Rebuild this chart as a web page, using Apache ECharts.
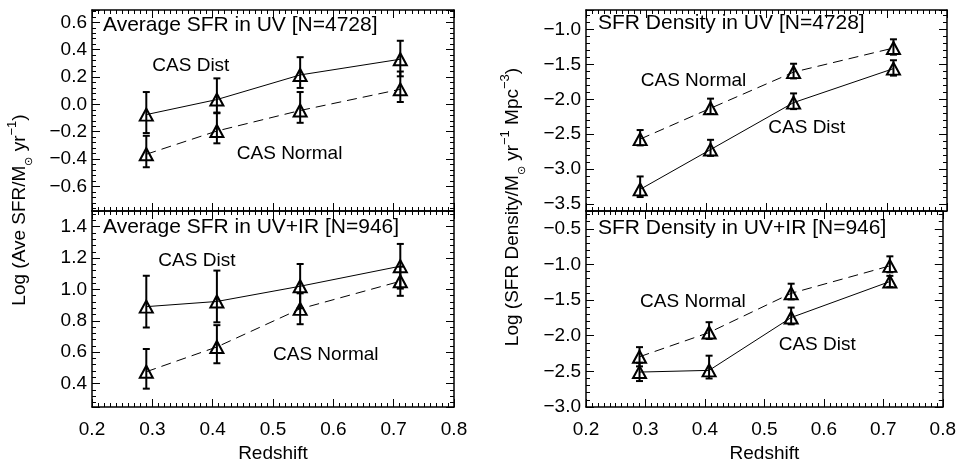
<!DOCTYPE html>
<html><head><meta charset="utf-8">
<script src="https://cdn.jsdelivr.net/npm/echarts@6/dist/echarts.min.js"></script>
<style>html,body{margin:0;padding:0;background:#fff}#c{width:959px;height:464px}</style>
</head><body><div id="c"></div>
<script>
// ---------------- data ----------------
const redshift = [0.29, 0.407, 0.545, 0.711];
const xTickLabels = ['0.2', '0.3', '0.4', '0.5', '0.6', '0.7', '0.8'];

// Panel 1: Average SFR in UV [N=4728]
const uvAvgDist      = [-0.075, 0.035, 0.215, 0.33];
const uvAvgDistLo    = [-0.21, -0.065, 0.12, 0.205];
const uvAvgDistHi    = [0.09, 0.19, 0.345, 0.465];
const uvAvgNormal    = [-0.365, -0.195, -0.045, 0.11];
const uvAvgNormalLo  = [-0.46, -0.285, -0.135, 0.017];
const uvAvgNormalHi  = [-0.23, -0.06, 0.09, 0.24];

// Panel 2: Average SFR in UV+IR [N=946]
const irAvgDist      = [0.89, 0.923, 1.02, 1.148];
const irAvgDistLo    = [0.757, 0.79, 0.88, 1.005];
const irAvgDistHi    = [1.087, 1.12, 1.162, 1.29];
const irAvgNormal    = [0.475, 0.633, 0.876, 1.052];
const irAvgNormalLo  = [0.367, 0.529, 0.778, 0.959];
const irAvgNormalHi  = [0.62, 0.772, 0.975, 1.145];

// Panel 3: SFR Density in UV [N=4728]
const uvDenDist      = [-3.29, -2.72, -2.047, -1.56];
const uvDenDistLo    = [-3.40, -2.81, -2.14, -1.66];
const uvDenDistHi    = [-3.105, -2.58, -1.915, -1.44];
const uvDenNormal    = [-2.57, -2.128, -1.61, -1.265];
const uvDenNormalLo  = [-2.66, -2.21, -1.70, -1.36];
const uvDenNormalHi  = [-2.44, -1.99, -1.49, -1.14];

// Panel 4: SFR Density in UV+IR [N=946]
const irDenDist      = [-2.51, -2.486, -1.745, -1.24];
const irDenDistLo    = [-2.636, -2.6, -1.84, -1.318];
const irDenDistHi    = [-2.38, -2.28, -1.605, -1.16];
const irDenNormal    = [-2.295, -1.955, -1.405, -1.02];
const irDenNormalLo  = [-2.43, -2.045, -1.49, -1.11];
const irDenNormalHi  = [-2.16, -1.81, -1.27, -0.886];

// axis ranges / steps
const yRanges = [[-0.78, 0.69], [0.25, 1.5], [-3.6, -0.72], [-3.0, -0.25]];
const ySteps  = [0.2, 0.2, 0.5, 0.5];
const xRange  = [0.2, 0.8];

// texts
const panelTitles = ['Average SFR in UV [N=4728]', 'Average SFR in UV+IR [N=946]',
                     'SFR Density in UV [N=4728]', 'SFR Density in UV+IR [N=946]'];
const distLabel = 'CAS Dist', normalLabel = 'CAS Normal';
// annotation anchors (left-middle of text) in data coordinates
const distLabelPos   = [[0.30, 0.284], [0.31, 1.183], [0.503, -2.41], [0.524, -2.13]];
const normalLabelPos = [[0.44, -0.36], [0.50, 0.581], [0.291, -1.73], [0.291, -1.52]];

// ---------------- layout ----------------
const FONT = '"Liberation Sans", Arial, sans-serif';
const gridBoxes = [
  {left: 92,  top: 10,  width: 362, height: 201},
  {left: 92,  top: 211, width: 362, height: 201},
  {left: 586, top: 10,  width: 361, height: 201},
  {left: 586, top: 211, width: 361, height: 201}
];
const titlePos = [[103, 15], [103, 217], [598, 13], [598, 218]];
const showXLabels = [false, true, false, true];

const panelData = [
  [uvAvgDist, uvAvgDistLo, uvAvgDistHi, uvAvgNormal, uvAvgNormalLo, uvAvgNormalHi],
  [irAvgDist, irAvgDistLo, irAvgDistHi, irAvgNormal, irAvgNormalLo, irAvgNormalHi],
  [uvDenDist, uvDenDistLo, uvDenDistHi, uvDenNormal, uvDenNormalLo, uvDenNormalHi],
  [irDenDist, irDenDistLo, irDenDistHi, irDenNormal, irDenNormalLo, irDenNormalHi]
];

function fmt(step) {
  return function (v) {
    if (Math.abs(v / step - Math.round(v / step)) > 1e-6) return '';
    if (Math.abs(v) < 1e-9) v = 0;
    return v.toFixed(1).replace('-', '\u2212');
  };
}

function errRender(params, api) {
  const x = api.value(0), lo = api.value(1), hi = api.value(2);
  const pLo = api.coord([x, lo]), pHi = api.coord([x, hi]);
  const cap = 3.5;
  const st = {stroke: '#000', lineWidth: 2};
  return {type: 'group', children: [
    {type: 'line', shape: {x1: pLo[0], y1: pLo[1], x2: pHi[0], y2: pHi[1]}, style: st},
    {type: 'line', shape: {x1: pHi[0] - cap, y1: pHi[1], x2: pHi[0] + cap, y2: pHi[1]}, style: st},
    {type: 'line', shape: {x1: pLo[0] - cap, y1: pLo[1], x2: pLo[0] + cap, y2: pLo[1]}, style: st}
  ]};
}

const axisLineStyle = {show: true, onZero: false, lineStyle: {color: '#000', width: 1.5}};
const tickStyle = {show: true, inside: true, length: 8, lineStyle: {color: '#000', width: 1}};

const xAxes = [], yAxes = [], series = [], titles = [];
for (let i = 0; i < 4; i++) {
  xAxes.push({
    type: 'value', gridIndex: i, position: 'bottom', min: xRange[0], max: xRange[1], interval: 0.1,
    axisLine: axisLineStyle, axisTick: tickStyle,
    minorTick: {show: true, splitNumber: 10, length: 4, lineStyle: {color: '#000', width: 1}},
    splitLine: {show: false},
    axisLabel: {show: showXLabels[i], margin: 13, color: '#000', fontFamily: FONT, fontSize: 19,
      formatter: v => xTickLabels[Math.round((v - xRange[0]) * 10)] || ''},
    name: showXLabels[i] ? 'Redshift' : '', nameLocation: 'middle', nameGap: 37,
    nameTextStyle: {color: '#000', fontFamily: FONT, fontSize: 19}
  });
  xAxes.push({
    type: 'value', gridIndex: i, position: 'top', min: xRange[0], max: xRange[1], interval: 0.1,
    axisLine: axisLineStyle, axisTick: tickStyle,
    minorTick: {show: true, splitNumber: 10, length: 4, lineStyle: {color: '#000', width: 1}},
    splitLine: {show: false}, axisLabel: {show: false}
  });
  yAxes.push({
    type: 'value', gridIndex: i, position: 'left', min: yRanges[i][0], max: yRanges[i][1], splitNumber: 6,
    axisLine: axisLineStyle, axisTick: tickStyle,
    minorTick: {show: true, splitNumber: 5, length: 4, lineStyle: {color: '#000', width: 1}},
    splitLine: {show: false},
    axisLabel: {show: true, margin: 5, color: '#000', fontFamily: FONT, fontSize: 19, formatter: fmt(ySteps[i])}
  });
  yAxes.push({
    type: 'value', gridIndex: i, position: 'right', min: yRanges[i][0], max: yRanges[i][1], splitNumber: 6,
    axisLine: axisLineStyle, axisTick: tickStyle,
    minorTick: {show: true, splitNumber: 5, length: 4, lineStyle: {color: '#000', width: 1}},
    splitLine: {show: false}, axisLabel: {show: false}
  });

  const [d, dLo, dHi, n, nLo, nHi] = panelData[i];
  const xi = 2 * i, yi = 2 * i;
  const mk = (arr) => redshift.map((x, k) => [x, arr[k]]);
  const mkErr = (lo, hi) => redshift.map((x, k) => [x, lo[k], hi[k]]);

  series.push({type: 'custom', xAxisIndex: xi, yAxisIndex: yi, renderItem: errRender,
    data: mkErr(dLo, dHi), encode: {x: 0, y: [1, 2]}, silent: true, z: 2});
  series.push({type: 'custom', xAxisIndex: xi, yAxisIndex: yi, renderItem: errRender,
    data: mkErr(nLo, nHi), encode: {x: 0, y: [1, 2]}, silent: true, z: 2});
  series.push({type: 'line', name: distLabel, xAxisIndex: xi, yAxisIndex: yi, data: mk(d),
    symbol: 'triangle', symbolSize: [13, 12], showSymbol: true, silent: true, z: 3,
    itemStyle: {color: 'rgba(0,0,0,0)', borderColor: '#000', borderWidth: 2},
    lineStyle: {color: '#000', width: 1, type: 'solid'}, emphasis: {disabled: true}});
  series.push({type: 'line', name: normalLabel, xAxisIndex: xi, yAxisIndex: yi, data: mk(n),
    symbol: 'triangle', symbolSize: [13, 12], showSymbol: true, silent: true, z: 3,
    itemStyle: {color: 'rgba(0,0,0,0)', borderColor: '#000', borderWidth: 2},
    lineStyle: {color: '#000', width: 1, type: [10, 6]}, emphasis: {disabled: true}});
  series.push({type: 'scatter', xAxisIndex: xi, yAxisIndex: yi, symbolSize: 0, silent: true,
    itemStyle: {color: '#000', opacity: 1},
    data: [{value: distLabelPos[i], name: distLabel}, {value: normalLabelPos[i], name: normalLabel}],
    label: {show: true, position: 'right', distance: 0, formatter: p => p.name, opacity: 1,
      color: '#000', fontFamily: FONT, fontSize: 19}});

  titles.push({text: panelTitles[i], left: titlePos[i][0], top: titlePos[i][1], padding: 0,
    textStyle: {color: '#000', fontFamily: FONT, fontSize: 21, fontWeight: 'normal'}});
}

const richStyles = {
  m: {fontFamily: FONT, fontSize: 19, color: '#000', lineHeight: 28},
  sup: {fontFamily: FONT, fontSize: 13, color: '#000', lineHeight: 13, verticalAlign: 'top'},
  sub: {fontFamily: FONT, fontSize: 11, color: '#000', lineHeight: 22, verticalAlign: 'bottom'}
};

const option = {
  animation: false,
  backgroundColor: '#fff',
  title: titles,
  grid: gridBoxes,
  xAxis: xAxes,
  yAxis: yAxes,
  series: series,
  graphic: [
    {type: 'text', x: 20, y: 210, rotation: Math.PI / 2,
      style: {text: '{m|Log (Ave SFR/M}{sub|\u2299}{m| yr}{sup|\u22121}{m|)}', rich: richStyles,
        align: 'center', verticalAlign: 'middle'}},
    {type: 'text', x: 513, y: 207, rotation: Math.PI / 2,
      style: {text: '{m|Log (SFR Density/M}{sub|\u2299}{m| yr}{sup|\u22121}{m| Mpc}{sup|\u22123}{m|)}', rich: richStyles,
        align: 'center', verticalAlign: 'middle'}}
  ]
};

const chart = echarts.init(document.getElementById('c'), null, {renderer: 'canvas'});
chart.setOption(option);
</script>
</body></html>
